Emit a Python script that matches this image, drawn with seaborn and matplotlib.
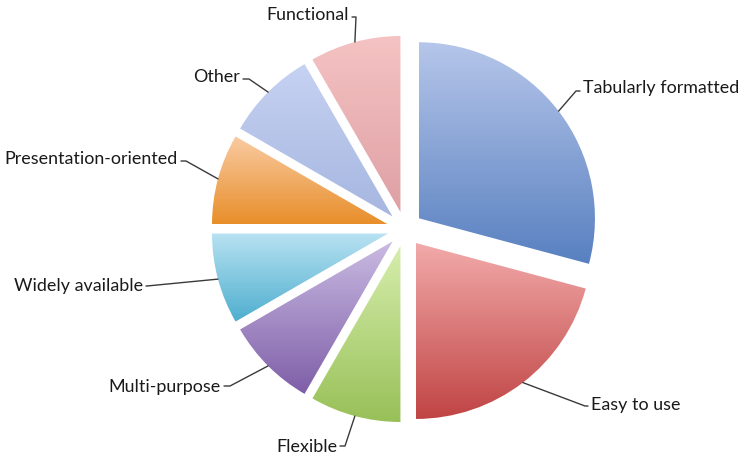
import numpy as np
import matplotlib
matplotlib.use("Agg")
import matplotlib.pyplot as plt
import matplotlib.colors as mcolors
import seaborn as sns

sns.set_theme(style="white")
plt.rcParams["font.family"] = ["Lato", "DejaVu Sans"]

# Data
categories = ["Tabularly formatted", "Easy to use", "Flexible", "Multi-purpose",
              "Widely available", "Presentation-oriented", "Other", "Functional"]
counts = [14, 10, 4, 4, 4, 4, 4, 4]

# Gradient colours per slice (top, bottom)
top_colors = ["#b6c6ea", "#f2aaaa", "#d6eeac", "#cabbe2", "#b8e2f2", "#f9cba2", "#c6d2f2", "#f5c3c3"]
bottom_colors = ["#5880c0", "#c04444", "#98c058", "#7e5ea8", "#4eaecf", "#e88e2a", "#a6b6e0", "#dea0a4"]

# Label layout in pixel space: text anchor (x, y), alignment, elbow point
W, H = 739, 460
label_pos = [(583, 88, "left", (576, 92)),
             (591, 405, "left", (585, 407)),
             (337, 447, "right", (345, 447)),
             (221, 387, "right", (230, 387)),
             (143, 286, "right", (147, 287)),
             (178, 159, "right", (186, 162)),
             (240, 77, "right", (249, 80)),
             (349, 15, "right", (356, 18))]

cx, cy, radius = 405, H - 230, 176
explode_frac = 0.10

fig = plt.figure(figsize=(W / 100, H / 100), dpi=100)
ax = fig.add_axes([0, 0, 1, 1])

# matplotlib's explode offset is in data units, so scale it by the radius
wedges, _ = ax.pie(counts, startangle=90, counterclock=False, center=(cx, cy),
                   radius=radius, explode=[explode_frac * radius] * len(counts),
                   wedgeprops=dict(linewidth=0, facecolor="none"), frame=True)
ax.set_aspect("equal")
ax.axis("off")

for w, ctop, cbot in zip(wedges, top_colors, bottom_colors):
    path = w.get_path()
    verts = w.get_patch_transform().transform(path.vertices)
    x0, x1 = verts[:, 0].min(), verts[:, 0].max()
    y0, y1 = verts[:, 1].min(), verts[:, 1].max()
    cmap = mcolors.LinearSegmentedColormap.from_list("g", [cbot, ctop])
    grad = np.linspace(0, 1, 256).reshape(-1, 1)
    im = ax.imshow(grad, cmap=cmap, origin="lower", extent=(x0, x1, y0, y1),
                   aspect="auto", interpolation="bicubic", zorder=2)
    im.set_clip_path(w)

ax.set_xlim(0, W)
ax.set_ylim(0, H)
ax.set_aspect("equal")

# Leader lines and labels
for w, name, (tx, ty, ha, (ex, ey)) in zip(wedges, categories, label_pos):
    mid = np.deg2rad((w.theta1 + w.theta2) / 2)
    wx, wy = w.center
    px = wx + w.r * np.cos(mid)
    py = wy + w.r * np.sin(mid)
    ty_d, ey_d = H - ty, H - ey
    tick_x = tx - 3 if ha == "left" else tx + 3
    ax.plot([px, ex, tick_x], [py, ey_d, ey_d], color="#3a3a3a", lw=1.0, zorder=3,
            solid_capstyle="round")
    ax.text(tx, ty_d, name, ha=ha, va="center", fontsize=12.9, color="#1a1a1a", zorder=4)

fig.savefig("out.png", dpi=100, facecolor="white")
